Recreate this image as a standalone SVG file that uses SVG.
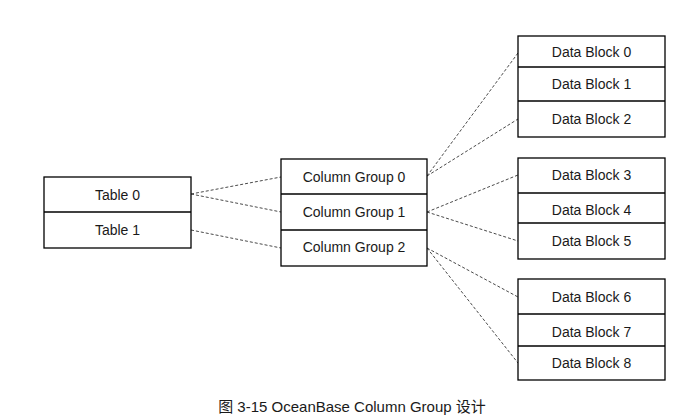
<svg xmlns="http://www.w3.org/2000/svg" width="693" height="419" viewBox="0 0 693 419">
<style>
.box{fill:#fff;stroke:#000;stroke-width:1.3}
.div{stroke:#000;stroke-width:1.3}
.t{font-family:"Liberation Sans",Arial,sans-serif;font-size:14px;fill:#1a1a1a;text-anchor:middle}
.cap{font-family:"Liberation Sans","Noto Sans CJK SC",sans-serif;font-size:15px;fill:#1a1a1a;text-anchor:middle}
.c{stroke:#4a4a4a;stroke-width:1;stroke-dasharray:3 2;fill:none}
</style>
<rect width="693" height="419" fill="#fff"/>
<g id="connectors">
<line class="c" x1="191" y1="194" x2="281" y2="177"/>
<line class="c" x1="191" y1="194" x2="281" y2="212"/>
<line class="c" x1="191" y1="230" x2="281" y2="248"/>
<line class="c" x1="427" y1="176" x2="518" y2="53"/>
<line class="c" x1="427" y1="176" x2="518" y2="119"/>
<line class="c" x1="427" y1="212" x2="518" y2="175"/>
<line class="c" x1="427" y1="212" x2="518" y2="241"/>
<line class="c" x1="427" y1="248" x2="518" y2="297"/>
<line class="c" x1="427" y1="248" x2="518" y2="363"/>
</g>
<g id="tables">
<rect class="box" x="44" y="177" width="147" height="71"/>
<line class="div" x1="44" y1="212" x2="191" y2="212"/>
<text class="t" x="117.5" y="200">Table 0</text>
<text class="t" x="117.5" y="235">Table 1</text>
</g>
<g id="column-groups">
<rect class="box" x="281" y="159" width="146" height="107"/>
<line class="div" x1="281" y1="194" x2="427" y2="194"/>
<line class="div" x1="281" y1="230" x2="427" y2="230"/>
<text class="t" x="354" y="182">Column Group 0</text>
<text class="t" x="354" y="217">Column Group 1</text>
<text class="t" x="354" y="252">Column Group 2</text>
</g>
<g id="data-blocks-0-2">
<rect class="box" x="518" y="36" width="147" height="101"/>
<line class="div" x1="518" y1="67" x2="665" y2="67"/>
<line class="div" x1="518" y1="101" x2="665" y2="101"/>
<text class="t" x="591.5" y="57">Data Block 0</text>
<text class="t" x="591.5" y="89">Data Block 1</text>
<text class="t" x="591.5" y="124">Data Block 2</text>
</g>
<g id="data-blocks-3-5">
<rect class="box" x="518" y="158" width="147" height="101"/>
<line class="div" x1="518" y1="193" x2="665" y2="193"/>
<line class="div" x1="518" y1="223" x2="665" y2="223"/>
<text class="t" x="591.5" y="180">Data Block 3</text>
<text class="t" x="591.5" y="215">Data Block 4</text>
<text class="t" x="591.5" y="246">Data Block 5</text>
</g>
<g id="data-blocks-6-8">
<rect class="box" x="518" y="279" width="147" height="101"/>
<line class="div" x1="518" y1="314" x2="665" y2="314"/>
<line class="div" x1="518" y1="346" x2="665" y2="346"/>
<text class="t" x="591.5" y="302">Data Block 6</text>
<text class="t" x="591.5" y="337">Data Block 7</text>
<text class="t" x="591.5" y="368">Data Block 8</text>
</g>
<text class="cap" x="352" y="412">图 3-15 OceanBase Column Group 设计</text>
</svg>
